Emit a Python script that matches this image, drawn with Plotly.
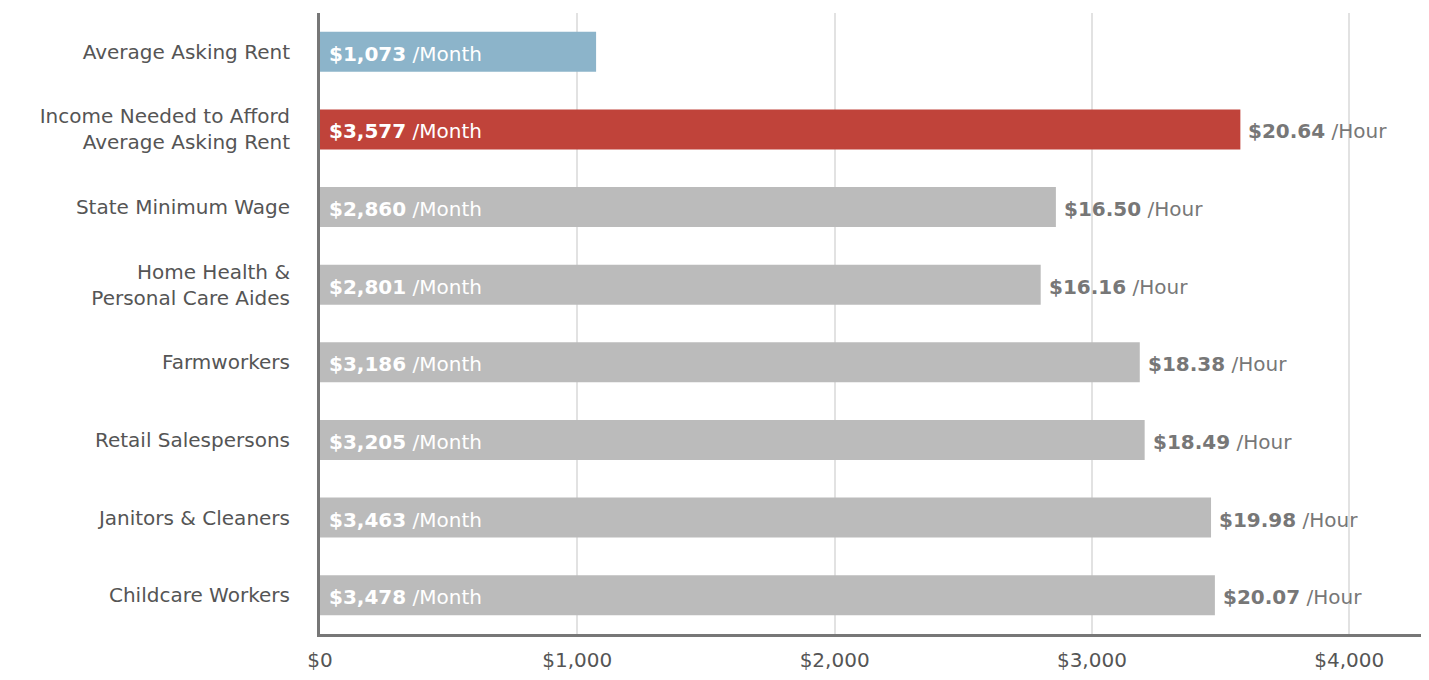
import plotly.graph_objects as go

categories = ["Average Asking Rent", "Income Needed to Afford<br>Average Asking Rent",
              "State Minimum Wage", "Home Health &<br>Personal Care Aides", "Farmworkers",
              "Retail Salespersons", "Janitors & Cleaners", "Childcare Workers"]
monthly = [1073, 3577, 2860, 2801, 3186, 3205, 3463, 3478]
hourly = [None, 20.64, 16.50, 16.16, 18.38, 18.49, 19.98, 20.07]
colors = ["#8cb4ca", "#c0433a"] + ["#bbbbbb"] * 6
xticks = [0, 1000, 2000, 3000, 4000]
xticklabels = ["$0", "$1,000", "$2,000", "$3,000", "$4,000"]

FONT = "DejaVu Sans"

fig = go.Figure()
fig.add_trace(go.Bar(
    y=categories, x=monthly, orientation="h",
    marker=dict(color=colors, line=dict(width=0)),
    width=0.514, hoverinfo="skip",
))

for c, v, h in zip(categories, monthly, hourly):
    fig.add_annotation(x=0, y=c, xref="x", yref="y", xanchor="left", xshift=7, yshift=-2,
                       text=f"<b>${v:,}</b> /Month", showarrow=False,
                       font=dict(color="white", size=20, family=FONT))
    if h is None:
        continue
    fig.add_annotation(x=v, y=c, xref="x", yref="y", xanchor="left", xshift=6, yshift=-2,
                       text=f"<b>${h:.2f}</b> /Hour", showarrow=False,
                       font=dict(color="#777777", size=20, family=FONT))

fig.update_layout(
    width=1413, height=664,
    margin=dict(l=312, r=0, t=5, b=36),
    plot_bgcolor="white", paper_bgcolor="white",
    showlegend=False,
)
fig.update_xaxes(range=[0, 4279], tickvals=xticks, ticktext=xticklabels,
                 showgrid=True, gridcolor="#e2e2e2", gridwidth=2,
                 zeroline=False, showline=True, linecolor="#777777", linewidth=3,
                 ticks="outside", ticklen=6, tickcolor="rgba(0,0,0,0)",
                 tickfont=dict(size=20, color="#555555", family=FONT), fixedrange=True)
fig.update_yaxes(autorange="reversed", showline=True, linecolor="#777777", linewidth=3,
                 showgrid=False, ticks="outside", ticklen=23, tickcolor="rgba(0,0,0,0)",
                 tickfont=dict(size=20, color="#555555", family=FONT), fixedrange=True)

fig.write_html("out.html")
